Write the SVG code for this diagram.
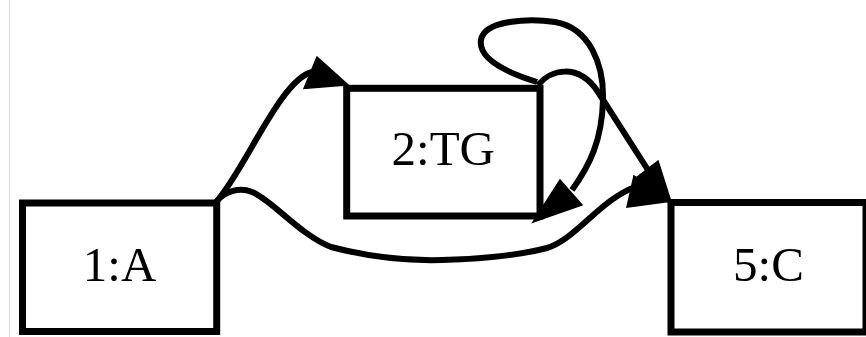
<svg xmlns="http://www.w3.org/2000/svg" width="866" height="337" viewBox="0 0 866 337">
<style>
.node rect{fill:#fff;stroke:#000;stroke-width:7}
.node text{font-family:"Liberation Serif","Times New Roman",serif;font-size:49px;fill:#000;text-anchor:middle}
.edge path{fill:none;stroke:#000;stroke-width:6}
.edge polygon{fill:#000;stroke:#000;stroke-width:1.5;stroke-linejoin:miter}
</style>
<rect width="866" height="337" fill="#fff"/>
<line x1="9.5" y1="0" x2="9.5" y2="337" stroke="#dcdcdc" stroke-width="1"/>
<g id="node1" class="node">
<rect x="22.5" y="203" width="194.2" height="128.5"/>
<text x="119.6" y="280.5">1:A</text>
</g>
<g id="node2" class="node">
<rect x="346.7" y="88.3" width="193.3" height="127.7"/>
<text x="443.3" y="165">2:TG</text>
</g>
<g id="node5" class="node">
<rect x="671" y="202.5" width="195" height="129.5"/>
<text x="768.5" y="280.5">5:C</text>
</g>
<g id="edges" class="edge">
<g id="e1_2">
<path d="M216,202 C245,170 280,80 312,72"/>
<polygon points="317,57 304,88.5 348,85"/>
</g>
<g id="e1_5">
<path d="M217,201 C225,191 240,187 252,192 C272,200 300,235 331,247 C365,256 405,261 442,260 C480,259 520,255 547,248 C575,240 600,200 635,187"/>
<polygon points="634,176 627,207 672,201"/>
</g>
<g id="e2_5">
<path d="M538,85 C550,70 578,62 598,92 L648,170"/>
<polygon points="658,161 636,178 672,205"/>
</g>
<g id="e2_2">
<path d="M537,82 C505,72 478,58 481,40 C484,20 530,18 555,22 C590,28 604,65 603,100 C602,140 590,165 572,190"/>
<polygon points="560,180 582,205 533,222"/>
</g>
</g>
</svg>
